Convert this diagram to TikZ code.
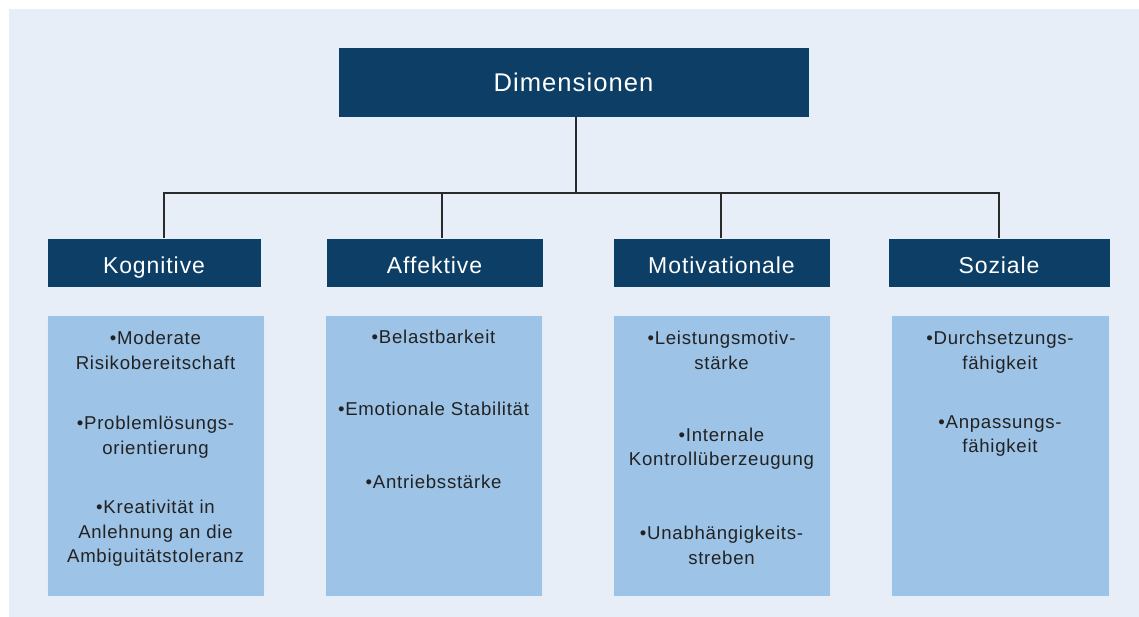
\documentclass[tikz,border=0pt]{standalone}
\usepackage{fontspec}
\setmainfont{Liberation Sans}[LetterSpace=4]
\definecolor{pagebg}{HTML}{E7EEF8}
\definecolor{navy}{HTML}{0D3F66}
\definecolor{sky}{HTML}{9DC3E7}
\definecolor{ink}{HTML}{222222}
\definecolor{wire}{HTML}{2A2A2A}
\tikzset{
  headbox/.style={fill=navy, draw=white!75!sky, line width=0.8pt, text=white,
    inner sep=0pt, outer sep=0pt, anchor=north west, minimum height=49pt},
  listbox/.style={fill=sky, draw=white!70!sky, line width=0.8pt,
    inner sep=0pt, outer sep=0pt, anchor=north west, minimum width=217pt, minimum height=281pt},
  subtitle/.style={font=\fontsize{23}{27}\selectfont, text height=22pt, text depth=0pt},
  item/.style={font=\fontsize{18.6}{24.4}\selectfont, text=ink, align=center,
    inner sep=0pt, anchor=north, execute at begin node=\strut},
  wiring/.style={draw=wire, line width=1.1pt}
}
\begin{document}
\begin{tikzpicture}[x=1pt, y=-1pt]
  \useasboundingbox (0,0) rectangle (1139,617);
  \fill[white] (0,0) rectangle (1139,617);
  \fill[pagebg] (9,9) rectangle (1139,617);

  % top node
  \node[headbox, minimum width=471pt, minimum height=70pt,
        font=\fontsize{25.6}{30}\selectfont, text height=18.3pt, text depth=0pt]
        (dim) at (338,47) {Dimensionen};

  % category headers
  \node[headbox, subtitle, minimum width=214pt] (kog) at (47,238)  {Kognitive};
  \node[headbox, subtitle, minimum width=217pt] (aff) at (326,238) {Affektive};
  \node[headbox, subtitle, minimum width=217pt] (mot) at (613,238) {Motivationale};
  \node[headbox, subtitle, minimum width=222pt] (soz) at (888,238) {Soziale};

  % tree connectors
  \coordinate (bus) at (576,193);
  \draw[wiring] (bus |- dim.south) -- (bus);
  \draw[wiring] (bus) -| ([xshift=10pt]kog.north);
  \draw[wiring] (bus) -| ([xshift=7.5pt]aff.north);
  \draw[wiring] (bus) -| ([xshift=-0.5pt]mot.north);
  \draw[wiring] (bus) -| (soz.north);

  % list panels
  \node[listbox] (kogL) at (47,315)  {};
  \node[listbox] (affL) at (325,315) {};
  \node[listbox] (motL) at (613,315) {};
  \node[listbox, minimum width=218pt] (sozL) at (891,315) {};

  % Kognitive
  \node[item] (k1) at (155.5,331) {•Moderate\\Risikobereitschaft};
  \node[item] (k2) at (155.5,416) {•Problemlösungs-\\orientierung};
  \node[item] (k3) at (155.5,500) {•Kreativität in\\Anlehnung an die\\Ambiguitätstoleranz};

  % Affektive
  \node[item] (a1) at (433.5,326.4) {•Belastbarkeit};
  \node[item] (a2) at (433.5,398.4) {•Emotionale Stabilität};
  \node[item] (a3) at (433.5,471.4) {•Antriebsstärke};

  % Motivationale
  \node[item] (m1) at (721.5,331) {•Leistungsmotiv-\\stärke};
  \node[item] (m2) at (721.5,427.5) {•Internale\\Kontrollüberzeugung};
  \node[item] (m3) at (721.5,526) {•Unabhängigkeits-\\streben};

  % Soziale
  \node[item] (s1) at (1000,331) {•Durchsetzungs-\\fähigkeit};
  \node[item] (s2) at (1000,415.5) {•Anpassungs-\\fähigkeit};
\end{tikzpicture}
\end{document}
